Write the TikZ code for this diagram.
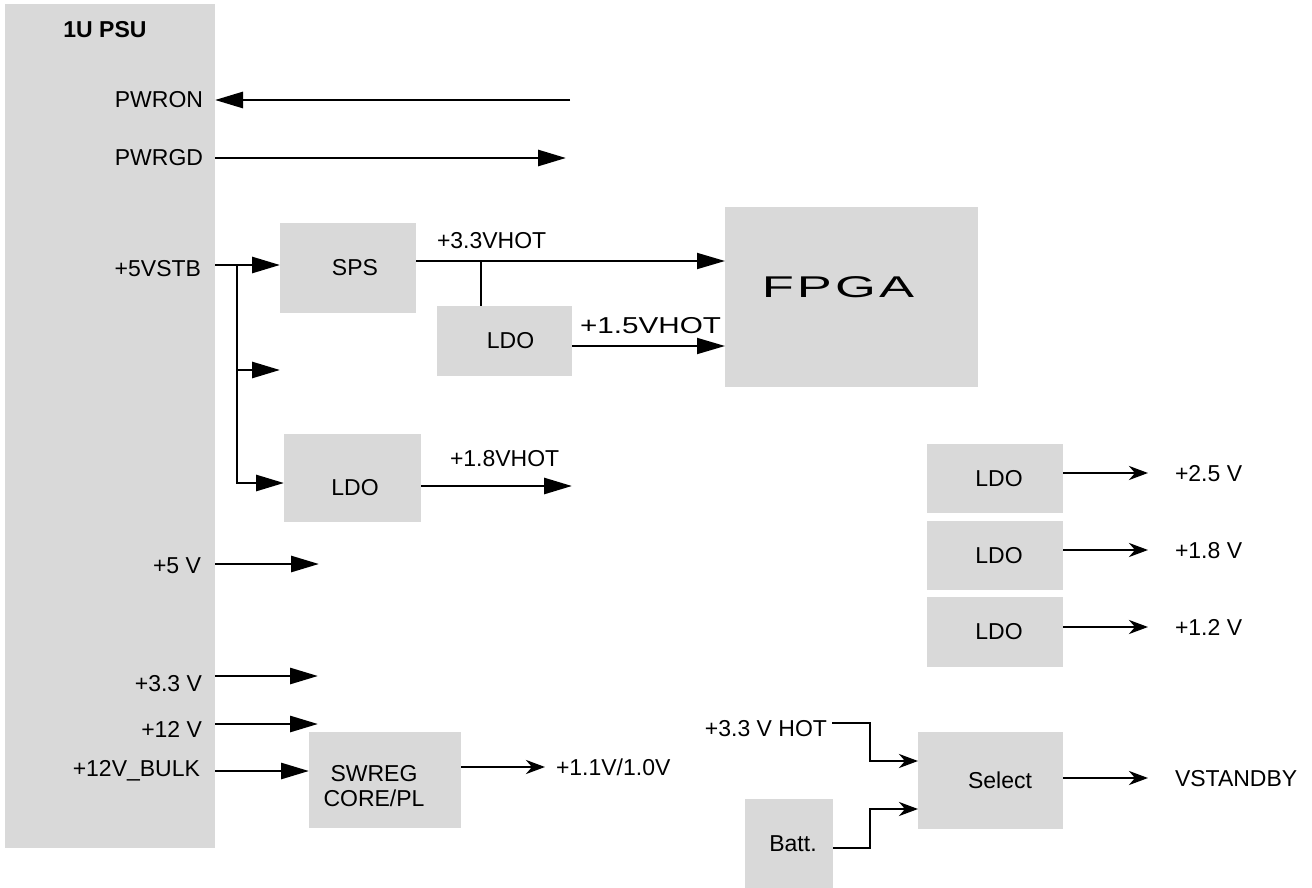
\documentclass[tikz,border=0pt]{standalone}
\usepackage{fontspec}
\setmainfont{Liberation Sans}
\usetikzlibrary{arrows.meta,calc}
\definecolor{boxgray}{RGB}{217,217,217}
\newcommand\lblfont{\fontsize{23}{25}\selectfont}
\tikzset{
  blk/.style={fill=boxgray, draw=none, inner sep=0pt, outer sep=0pt, anchor=north west, font=\lblfont},
  txt/.style={inner sep=0pt, outer sep=0pt, font=\lblfont},
  big/.style={line width=2.8pt, -{Triangle[length=28pt,width=16pt]}},
  thinarr/.style={line width=1.8pt, -{Triangle[length=28pt,width=16pt]}},
  thinline/.style={line width=1.5pt},
  sarr/.style={line width=2.8pt, -{Stealth[length=19pt,width=14pt,inset=6pt]}},
}
\begin{document}
\begin{tikzpicture}[x=1pt,y=-1pt]
\useasboundingbox (0,0) rectangle (1312,888);
% boxes
\node[blk,minimum width=210pt,minimum height=844pt] (psu) at (5,4) {};
\node[blk,minimum width=136pt,minimum height=90pt] (sps) at (280,223) {\hspace*{14pt}SPS};
\node[blk,minimum width=135pt,minimum height=70pt] (ldoA) at (437,306) {\hspace*{12pt}LDO};
\node[blk,minimum width=253pt,minimum height=180pt] (fpga) at (725,207) {};
\node[blk,minimum width=137pt,minimum height=88pt] (ldoB) at (284,434) {};
\node[blk,minimum width=152pt,minimum height=96pt] (swreg) at (309,732) {};
\node[blk,minimum width=136pt,minimum height=69pt] (ldo1) at (927,444) {\hspace*{8pt}LDO};
\node[blk,minimum width=136pt,minimum height=69pt] (ldo2) at (927,521) {\hspace*{8pt}LDO};
\node[blk,minimum width=136pt,minimum height=70pt] (ldo3) at (927,597) {\hspace*{8pt}LDO};
\node[blk,minimum width=145pt,minimum height=97pt] (select) at (918,732) {\hspace*{19pt}Select};
\node[blk,minimum width=88pt,minimum height=89pt] (batt) at (745,799) {\hspace*{8pt}Batt.};
% box texts placed off-centre
\node[txt] (fpgalbl) at (838,287) {\fontsize{30}{32}\selectfont\scalebox{1.75}[1]{\addfontfeature{LetterSpace=6}FPGA}};
\node[txt] (ldoBlbl) at (355,488) {LDO};
\node[txt,align=center] (swreglbl) at (374,786) {SWREG\\CORE/PL};
% PSU labels
\node[txt,anchor=base,font=\lblfont\bfseries] (title) at (105,38) {1U PSU};
\node[txt,anchor=base east] (lpwron) at (203,108) {PWRON};
\node[txt,anchor=base east] (lpwrgd) at (203,166) {PWRGD};
\node[txt,anchor=base east] (l5vstb) at (201,276) {+5VSTB};
\node[txt,anchor=base east] (l5v) at (201,573) {+5 V};
\node[txt,anchor=base east] (l33v) at (202,691) {+3.3 V};
\node[txt,anchor=base east] (l12v) at (202,737) {+12 V};
\node[txt,anchor=base east] (lbulk) at (200,776) {+12V\_BULK};
% other labels
\node[txt,anchor=base west] (l33hot) at (437,248) {+3.3VHOT};
\node[txt,anchor=base west] (l15hot) at (580,333) {\scalebox{1.29}[1]{+1.5VHOT}};
\node[txt,anchor=base west] (l18hot) at (450,466) {+1.8VHOT};
\node[txt,anchor=base west] (l11v) at (556,775) {+1.1V/1.0V};
\node[txt,anchor=base west] (l25) at (1175,481) {+2.5 V};
\node[txt,anchor=base west] (l18) at (1175,558) {+1.8 V};
\node[txt,anchor=base west] (l12) at (1175,635) {+1.2 V};
\node[txt,anchor=base west] (lvstby) at (1175,786) {VSTANDBY};
\node[txt,anchor=base east] (lhot) at (827,736) {+3.3 V HOT};
% coordinates
\coordinate (pwronEnd) at (570,100);
\coordinate (pwrgdEnd) at (566,158);
\coordinate (j) at (237,265);
\coordinate (k) at (237,483);
\coordinate (b3) at (280,370);
\coordinate (v18) at (572,486);
\coordinate (t) at (481,261);
\coordinate (r15) at (0,346);
\coordinate (e5) at (319,564);
\coordinate (e33) at (318,676);
\coordinate (e12) at (318,724);
\coordinate (rbulk) at (0,771);
\coordinate (e11) at (545,767);
\coordinate (o1) at (1148,473);
\coordinate (o2) at (1148,550);
\coordinate (o3) at (1148,627);
\coordinate (o4) at (1148,778);
\coordinate (mx) at (870,0);
% connectors
\draw[big] (pwronEnd) -- (pwronEnd -| psu.east);
\draw[big] (pwrgdEnd -| psu.east) -- (pwrgdEnd);
\draw[big] (j -| psu.east) -- (j -| sps.west);
\draw[big] (j) |- (k -| ldoB.west);
\draw[big] (j |- b3) -- (b3);
\draw[big] (v18 -| ldoB.east) -- (v18);
\draw[thinarr] (t -| sps.east) -- (t -| fpga.west);
\draw[thinline] (t) -- (t |- ldoA.north);
\draw[thinarr] (r15 -| ldoA.east) -- (r15 -| fpga.west);
\draw[big] (e5 -| psu.east) -- (e5);
\draw[big] (e33 -| psu.east) -- (e33);
\draw[big] (e12 -| psu.east) -- (e12);
\draw[big] (rbulk -| psu.east) -- (rbulk -| swreg.west);
\draw[sarr] (e11 -| swreg.east) -- (e11);
\draw[sarr] (o1 -| ldo1.east) -- (o1);
\draw[sarr] (o2 -| ldo2.east) -- (o2);
\draw[sarr] (o3 -| ldo3.east) -- (o3);
\draw[sarr] (o4 -| select.east) -- (o4);
\draw[sarr] ($(lhot.east |- 0,723)+(5,0)$) -- (mx |- 0,723) -- (mx |- 0,761) -- (select.west |- 0,761);
\draw[sarr] (batt.east |- 0,848) -- (mx |- 0,848) -- (mx |- 0,809) -- (select.west |- 0,809);
\end{tikzpicture}
\end{document}
